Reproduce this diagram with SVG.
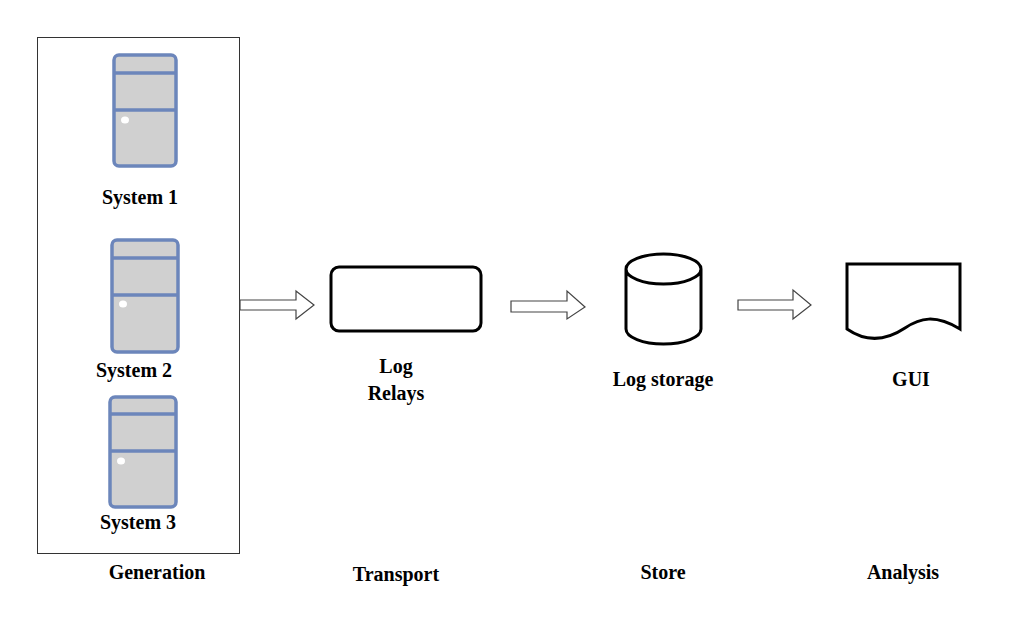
<svg xmlns="http://www.w3.org/2000/svg" width="1024" height="637" viewBox="0 0 1024 637">
<style>
text{font-family:"Liberation Serif","Times New Roman",serif;font-weight:bold;font-size:20px;fill:#000;text-anchor:middle}
.srv rect{fill:#d0d0d0;stroke:#6c86bb;stroke-width:3.5}
.srv line{stroke:#6c86bb;stroke-width:3.5}
.arr{fill:#fff;stroke:#444;stroke-width:1.2}
.sh{fill:#fff;stroke:#000;stroke-width:3}
</style>
<rect width="1024" height="637" fill="#fff"/>
<g id="generation">
<rect x="37.5" y="37.5" width="202" height="516" fill="none" stroke="#333" stroke-width="1"/>
<text x="157" y="579">Generation</text>
</g>
<g id="system1" class="srv">
<rect x="114" y="55" width="62" height="111" rx="5"/>
<line x1="114" y1="73" x2="176" y2="73"/><line x1="114" y1="110" x2="176" y2="110"/>
<ellipse cx="125" cy="120" rx="4" ry="3.5" fill="#fff"/>
<text x="140" y="204">System 1</text>
</g>
<g id="system2" class="srv">
<rect x="112" y="240" width="66" height="112" rx="5"/>
<line x1="112" y1="258" x2="178" y2="258"/><line x1="112" y1="295" x2="178" y2="295"/>
<ellipse cx="123" cy="304" rx="4" ry="3.5" fill="#fff"/>
<text x="134" y="377">System 2</text>
</g>
<g id="system3" class="srv">
<rect x="110" y="397" width="66" height="110" rx="5"/>
<line x1="110" y1="414" x2="176" y2="414"/><line x1="110" y1="451" x2="176" y2="451"/>
<ellipse cx="121" cy="461" rx="4" ry="3.5" fill="#fff"/>
<text x="138" y="529">System 3</text>
</g>
<g id="relays">
<rect class="sh" x="331" y="267" width="150" height="64" rx="8"/>
<text x="396" y="373">Log</text><text x="396" y="400">Relays</text>
<text x="396" y="581">Transport</text>
</g>
<g id="storage">
<path class="sh" d="M626,269 V329 A37.5,15 0 0 0 701,329 V269 A37.5,15 0 0 0 626,269 A37.5,15 0 0 0 701,269"/>
<text x="663" y="386">Log storage</text>
<text x="663" y="579">Store</text>
</g>
<g id="gui">
<path class="sh" d="M847,264 H960 V329 C935,314 920,318 905,328 C890,338 870,345 847,329 Z"/>
<text x="911" y="386">GUI</text>
<text x="903" y="579">Analysis</text>
</g>
<g id="connectors">
<path class="arr" d="M240,300 H296 V291 L314,305 L296,319 V310 H240 Z"/>
<path class="arr" d="M511,301 H567 V291 L585,307 L567,319 V312 H511 Z"/>
<path class="arr" d="M738,300 H793 V290 L811,305 L793,319 V310 H738 Z"/>
</g>
</svg>
